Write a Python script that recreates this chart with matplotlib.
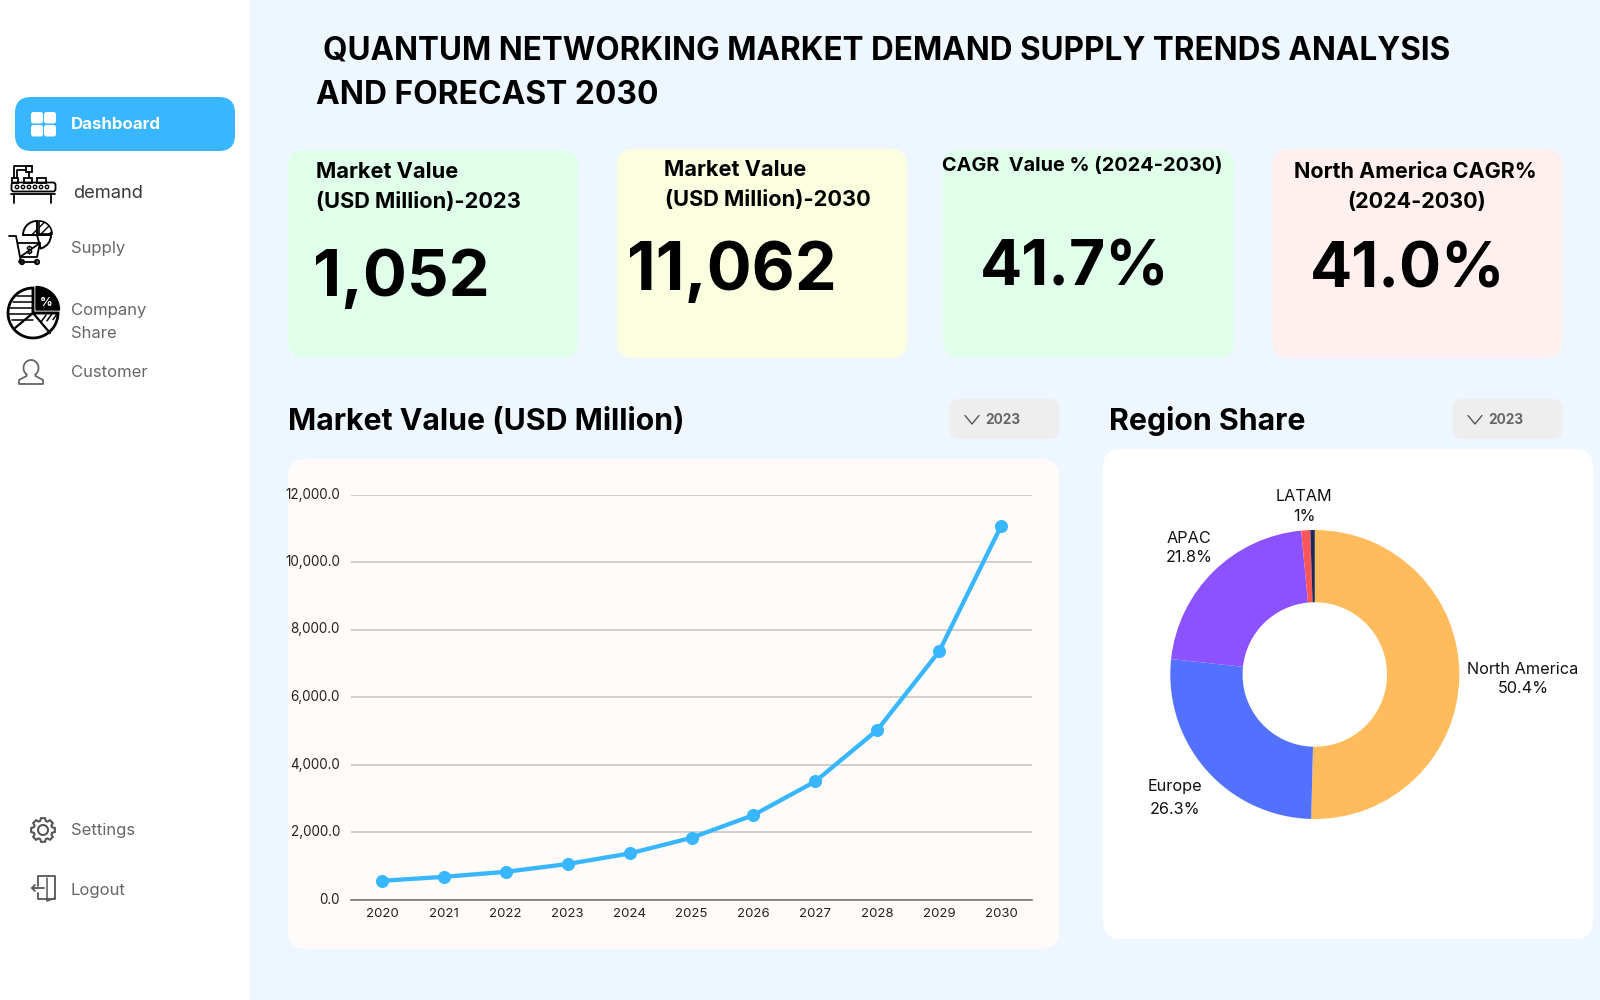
import numpy as np
import matplotlib
matplotlib.use("Agg")
import matplotlib.pyplot as plt
from matplotlib.patches import FancyBboxPatch, Circle, Wedge, Rectangle, Polygon
from matplotlib.ticker import FuncFormatter

plt.rcParams['font.family'] = ['Inter', 'DejaVu Sans']

years = ['2020', '2021', '2022', '2023', '2024', '2025', '2026', '2027', '2028', '2029', '2030']
market_value = [553, 672, 820, 1052, 1364, 1828, 2500, 3500, 5020, 7350, 11062]
y_ticks = [0, 2000, 4000, 6000, 8000, 10000, 12000]

regions = ['North America', 'Europe', 'APAC', 'LATAM', 'MEA']
region_share = [50.4, 26.3, 21.8, 1.0, 0.5]
region_colors = ['#FFBB5C', '#5271FF', '#8C52FF', '#FF5757', '#1F2A5C']

kpi_values = ['1,052', '11,062', '41.7%', '41.0%']

BLUE = '#38B6FF'
W, H = 1600, 1000

fig = plt.figure(figsize=(16, 10), dpi=100, facecolor='#EEF6FF')
bg = fig.add_axes([0, 0, 1, 1])
bg.set_xlim(0, W)
bg.set_ylim(H, 0)
bg.axis('off')


def box(x0, y0, x1, y1, color, r=14, z=1):
    bg.add_patch(FancyBboxPatch((x0 + r, y0 + r), x1 - x0 - 2*r, y1 - y0 - 2*r,
                                boxstyle=f"round,pad={r},rounding_size={r}",
                                fc=color, ec='none', zorder=z))


def txt(x, y, s, size, color='black', weight='normal', ha='left', va='baseline'):
    bg.text(x, y, s, fontsize=size, color=color, fontweight=weight, ha=ha, va=va, zorder=5)


def stroke(xs, ys, color='black', lw=1.3):
    bg.plot(xs, ys, color=color, lw=lw, solid_capstyle='round', solid_joinstyle='round', zorder=4)


def rect(x, y, w, h, color='black', lw=1.3):
    bg.add_patch(Rectangle((x, y), w, h, fc='none', ec=color, lw=lw, zorder=4))


def ring(x, y, r, color='black', lw=1.3, fc='none'):
    bg.add_patch(Circle((x, y), r, fc=fc, ec=color, lw=lw, zorder=4))


# sidebar
bg.add_patch(Rectangle((0, 0), 250, H, fc='white', ec='none', zorder=0))
box(15, 97, 235, 151, BLUE, r=16)
for gx, gy in [(31, 112), (44, 112), (31, 125), (44, 125)]:
    box(gx, gy, gx + 12, gy + 11.5, 'white', r=2.5, z=3)
txt(71, 129, 'Dashboard', 12.2, 'white', 'bold')
txt(73.5, 198, 'demand', 13.2, '#3A3A3A')
txt(71, 253, 'Supply', 12, '#666666')
txt(71, 315, 'Company', 12, '#666666')
txt(71, 337.5, 'Share', 12, '#666666')
txt(71, 377, 'Customer', 12, '#666666')
txt(71, 835, 'Settings', 12, '#666666')
txt(71, 895, 'Logout', 12, '#666666')

# conveyor icon
bg.add_patch(FancyBboxPatch((14, 185), 39, 4, boxstyle="round,pad=2.5", fc='none', ec='black', lw=1.3, zorder=4))
for cx in range(17, 52, 6):
    ring(cx, 187, 1.7, lw=1)
stroke([11, 55], [194, 194])
stroke([14, 14], [194, 203])
stroke([51, 51], [194, 203])
rect(12, 178, 6, 5)
rect(24, 178, 8, 5)
rect(37, 178, 9, 5)
stroke([14, 14, 32], [178, 166, 166])
stroke([17, 17, 26], [178, 170, 170])
rect(26, 166, 6, 6)
stroke([29, 29], [172, 178])

# cart + pie icon
stroke([9, 16, 20, 40, 37, 21, 19, 37], [236, 236, 257, 243, 257, 257, 262, 262])
stroke([18, 40], [243, 243])
ring(22, 262, 2.2)
ring(37, 262, 2.2)
txt(28.5, 254, '$', 7.5, 'black', 'bold', ha='center')
bg.add_patch(Wedge((37, 235), 14, 180, 270, fc='white', ec='black', lw=1.4, zorder=3, hatch='//'))
bg.add_patch(Wedge((37, 235), 14, 0, 75, fc='white', ec='black', lw=1.4, zorder=3))
bg.add_patch(Wedge((39, 234), 13, 270, 360, fc='white', ec='black', lw=1.2, hatch='////', zorder=3))

# company share pie icon
bg.add_patch(Wedge((33, 313), 25, 0, 270, fc='white', ec='black', lw=2, zorder=3))
bg.add_patch(Wedge((36, 310), 23.5, 270, 360, fc='black', ec='black', lw=1, zorder=3))
txt(46.5, 306, '%', 9, 'white', 'bold', ha='center')
for ly, lx in [(296, 17), (302, 13), (308, 10), (314, 9), (320, 12)]:
    stroke([lx, 33], [ly, ly], lw=1.1)
stroke([33, 33], [289, 313], lw=1.6)
stroke([33, 15], [313, 328], lw=1.6)
stroke([33, 50], [313, 333], lw=1.6)
stroke([33, 58], [313, 313], lw=1.6)
for d in [0, 6, 12]:
    stroke([41 + d, 46 + d], [322 - d*0.2, 315 - d*0.2], lw=1.1)

# customer icon
color_user = '#666666'
head_a = np.radians(np.linspace(125, 415, 40))
stroke(31 + 7.5*np.cos(head_a), 368 + 8*np.sin(head_a), color_user)
stroke([26.5, 26.5, 19, 19, 43, 43, 35.5, 35.5], [374.5, 376, 380, 384, 384, 380, 376, 374.5], color_user)

# settings gear icon
color_set = '#555555'
teeth_x, teeth_y = [], []
for a in np.linspace(0, 2*np.pi, 8, endpoint=False):
    for da, r in [(-0.3, 9.5), (-0.17, 12), (0.17, 12), (0.3, 9.5)]:
        teeth_x.append(43 + r*np.cos(a + da))
        teeth_y.append(830 + r*np.sin(a + da))
bg.add_patch(Polygon(np.column_stack([teeth_x, teeth_y]), closed=True, fc='none', ec=color_set, lw=1.5, zorder=4))
ring(43, 830, 5, color_set, lw=1.5)

# logout icon
stroke([38, 38, 55, 55, 47], [886, 876, 876, 899, 899], color_set)
stroke([38, 38, 47], [893, 899, 899], color_set)
stroke([47, 47, 55], [878, 901, 898], color_set, lw=1.1)
stroke([32, 44], [888, 888], color_set)
stroke([35, 32, 35], [885, 888, 891], color_set)

# title
txt(323, 59.5, 'QUANTUM NETWORKING MARKET DEMAND SUPPLY TRENDS ANALYSIS', 22.65, 'black', 'bold')
txt(316, 104, 'AND FORECAST 2030', 22.9, 'black', 'bold')

# kpi cards
box(288, 150, 578, 358, '#E0FFEB', r=16)
box(617, 149, 907, 358, '#FBFFDF', r=16)
box(943, 149, 1234, 358, '#E0FFEB', r=16)
box(1272, 149, 1562, 358, '#FFF0EF', r=16)

txt(316, 177.5, 'Market Value', 15.7, 'black', 'bold')
txt(316, 208, '(USD Million)-2023', 15.7, 'black', 'bold')
txt(664.5, 176, 'Market Value', 15.7, 'black', 'bold')
txt(665, 206, '(USD Million)-2030', 15.7, 'black', 'bold')
txt(942, 171.5, 'CAGR  Value % (2024-2030)', 14.3, 'black', 'bold')
txt(1415, 178, 'North America CAGR%', 15.5, 'black', 'bold', ha='center')
txt(1417, 208, '(2024-2030)', 15.5, 'black', 'bold', ha='center')

txt(313, 296, kpi_values[0], 47, 'black', 'bold')
txt(627, 290, kpi_values[1], 48, 'black', 'bold')
txt(980, 286, kpi_values[2], 45, 'black', 'bold')
txt(1310, 287, kpi_values[3], 45, 'black', 'bold')

# section headers
txt(288, 430.5, 'Market Value (USD Million)', 21.8, 'black', 'bold')
txt(1109, 430.5, 'Region Share', 21.8, 'black', 'bold')
for x0 in [950, 1453]:
    box(x0, 399, x0 + 109, 439, '#EEEEEE', r=9)
    stroke([x0 + 15, x0 + 22, x0 + 29], [415.5, 424, 415.5], '#555555', lw=1)
    txt(x0 + 35, 424, '2023', 9.8, '#666666', 'bold')

# panels
box(288, 459, 1059, 949, '#FFFBF9', r=18)
box(1103, 449, 1593, 939, 'white', r=18)

# line chart
ax = fig.add_axes([351/W, 1 - 899.5/H, (1032 - 351)/W, (899.5 - 494.5)/H])
ax.patch.set_alpha(0)
ax.plot(years, market_value, color=BLUE, lw=3.1, marker='o', ms=8.4, zorder=3)
ax.set_xlim(-0.5, len(years) - 0.5)
ax.set_ylim(0, 12000)
ax.set_yticks(y_ticks)
ax.yaxis.set_major_formatter(FuncFormatter(lambda v, p: f'{v:,.1f}'))
ax.grid(axis='y', color='#C6C2BF', lw=1.1)
ax.set_axisbelow(True)
for s in ['top', 'left', 'right']:
    ax.spines[s].set_visible(False)
ax.spines['bottom'].set_color('#6E6A68')
ax.spines['bottom'].set_linewidth(1.1)
ax.spines['bottom'].set_zorder(2)
ax.tick_params(axis='x', length=0, labelsize=9.5, labelcolor='#222222', pad=6)
ax.tick_params(axis='y', length=0, labelsize=9.7, labelcolor='#222222', pad=8)
for lab in ax.get_yticklabels():
    lab.set_va('center')

# donut
pie_ax = fig.add_axes([(1314.8 - 144.5)/W, 1 - (674.5 + 144.5)/H, 289/W, 289/H])
pie_ax.pie(region_share, colors=region_colors, startangle=90, counterclock=False,
           radius=1, wedgeprops={'width': 0.5, 'linewidth': 0})
pie_ax.set_xlim(-1, 1)
pie_ax.set_ylim(-1, 1)

pie_labels = [(1523, 674, 1523, 693, 0), (1175, 791, 1175, 814, 1), (1189, 543, 1189, 562.5, 2),
              (1304, 501, 1304, 521, 3)]
for lx, ly, px, py, i in pie_labels:
    share = region_share[i]
    val = f'{share:.0f}%' if share == 1 else f'{share}%'
    txt(lx, ly, regions[i], 11.7, '#111111', ha='center')
    txt(px, py, val, 11.7, '#111111', ha='center')

fig.savefig('out.png', dpi=100, facecolor=fig.get_facecolor())
